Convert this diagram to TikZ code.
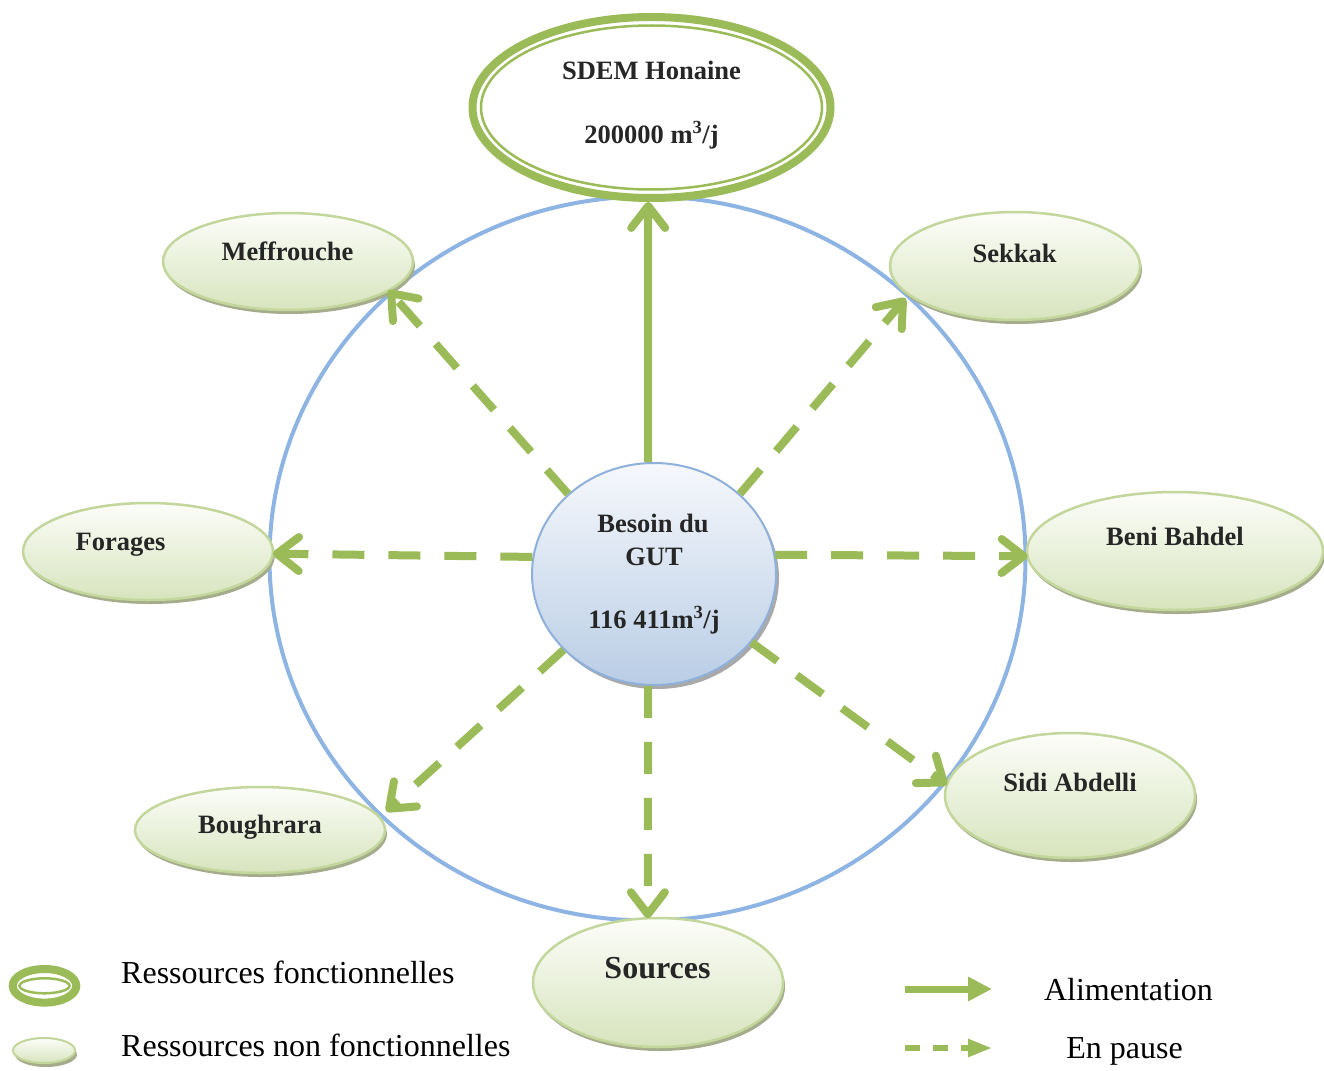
\documentclass[tikz,border=0pt]{standalone}
\usepackage{fontspec}
\setmainfont{Liberation Serif}
\usetikzlibrary{shapes.geometric,arrows.meta,shadows}

\definecolor{arrowgreen}{RGB}{155,187,89}
\definecolor{resborder}{RGB}{195,214,155}
\definecolor{restop}{RGB}{252,253,249}
\definecolor{resbot}{RGB}{215,228,189}
\definecolor{resshadow}{RGB}{165,172,140}
\definecolor{ringblue}{RGB}{141,180,226}
\definecolor{gutborder}{RGB}{142,176,218}
\definecolor{guttop}{RGB}{246,248,252}
\definecolor{gutbot}{RGB}{185,205,229}
\definecolor{gutshadow}{RGB}{160,160,160}
\definecolor{labeltext}{RGB}{38,38,38}

\begin{document}
\begin{tikzpicture}[x=1pt,y=-1pt,
  resource/.style={ellipse, draw=resborder, line width=2.5pt,
    top color=restop, bottom color=resbot, inner sep=0pt, outer sep=0pt,
    drop shadow={shadow xshift=2pt, shadow yshift=-4pt, fill=resshadow, opacity=1}},
  reslabel/.style={anchor=base, text=labeltext, inner sep=0pt,
    font=\fontsize{26.5pt}{30pt}\selectfont\bfseries},
  pausearrow/.style={draw=arrowgreen, line width=8pt, dash pattern=on 32pt off 24pt,
    -{Straight Barb[round,length=22pt,width=34pt]}},
  feedarrow/.style={draw=arrowgreen, line width=8pt,
    -{Straight Barb[round,length=22pt,width=34pt]}},
  legendtext/.style={anchor=base west, inner sep=0pt, font=\fontsize{32pt}{36pt}\selectfont},
]
\useasboundingbox (0,0) rectangle (1324,1070);

% supply area
\draw[ringblue, line width=4pt] (647.5,558.5) ellipse [x radius=378, y radius=362];

% resources
\node[resource, minimum width=250pt, minimum height=97pt]  (meff)      at (288,261.5) {};
\node[resource, minimum width=250pt, minimum height=108pt] (sekkak)    at (1015,266) {};
\node[resource, minimum width=250pt, minimum height=97pt]  (forages)   at (148,551.5) {};
\node[resource, minimum width=296pt, minimum height=118pt] (beni)      at (1175,551) {};
\node[resource, minimum width=250pt, minimum height=86pt]  (boughrara) at (260,830) {};
\node[resource, minimum width=250pt, minimum height=125pt] (sidi)      at (1070,795.5) {};
\node[resource, minimum width=250pt, minimum height=129pt] (sources)   at (658,982.5) {};

% working resource (double outline)
\node[ellipse, draw=arrowgreen, line width=8pt, fill=white, inner sep=0pt,
      minimum width=358pt, minimum height=181pt] (sdem) at (651.5,107.5) {};
\draw[arrowgreen, line width=2.5pt] (sdem.center) ellipse [x radius=170.5, y radius=82];

% demand
\node[ellipse, draw=gutborder, line width=2pt, top color=guttop, bottom color=gutbot,
      inner sep=0pt, minimum width=244pt, minimum height=222pt,
      drop shadow={shadow xshift=3pt, shadow yshift=-4pt, fill=gutshadow, opacity=0.9}]
      (gut) at (654,574) {};

% labels
\node[reslabel] (sdem-name) at (651.5,80) {SDEM Honaine};
\node[reslabel] (sdem-flow) at (651.5,143) {200000 m\textsuperscript{3}/j};
\node[reslabel] (gut-a) at (653,532) {Besoin du};
\node[reslabel] (gut-b) at (654,565) {GUT};
\node[reslabel] (gut-c) at (654,628) {116 411m\textsuperscript{3}/j};
\node[reslabel] (meff-t) at (287.5,260) {Meffrouche};
\node[reslabel] (sekkak-t) at (1014.5,262) {Sekkak};
\node[reslabel] (forages-t) at (120.5,550) {Forages};
\node[reslabel] (beni-t) at (1175,545) {Beni Bahdel};
\node[reslabel] (boughrara-t) at (260,833) {Boughrara};
\node[reslabel] (sidi-t) at (1070,791) {Sidi Abdelli};
\node[reslabel, font=\fontsize{32pt}{36pt}\selectfont\bfseries] (sources-t) at (657.5,978) {Sources};

% connections
\draw[feedarrow] (gut.93) -- (sdem.268);
\draw[pausearrow] (gut.137) -- (meff.-16);
\draw[pausearrow, shorten >=5pt] (gut.43) -- (sekkak.195);
\draw[pausearrow] (gut.172) -- (forages.359);
\draw[pausearrow] (gut.9) -- (beni.182);
\draw[pausearrow, shorten >=9pt] (gut.220) -- (boughrara.6);
\draw[pausearrow] (gut.325) -- (sidi.175);
\draw[pausearrow] (gut.267) -- (sources.99);

% legend
\node[ellipse, draw=arrowgreen, line width=8pt, fill=white, inner sep=0pt,
      minimum width=63.6pt, minimum height=33.6pt] (keyring) at (44.5,985.8) {};
\draw[arrowgreen, line width=2.5pt] (keyring.center) ellipse [x radius=25, y radius=7.5];
\node[resource, line width=2pt, minimum width=62pt, minimum height=25pt] (keyres) at (44,1050.5) {};
\node[legendtext] (key-func) at (121,983) {Ressources fonctionnelles};
\node[legendtext] (key-nonfunc) at (121,1056) {Ressources non fonctionnelles};

\coordinate (feed-a) at (905,989);
\coordinate (feed-b) at (992,989);
\draw[arrowgreen, line width=7pt, -{Triangle[length=24pt,width=23pt]}] (feed-a) -- (feed-b);
\coordinate (pause-a) at (905,1048);
\coordinate (pause-b) at (992,1048);
\draw[arrowgreen, line width=5.5pt, dash pattern=on 15pt off 13pt,
      -{Triangle[length=24pt,width=17pt]}] (pause-a) -- (pause-b);
\node[legendtext, anchor=base] (key-feed) at (1128.5,1000) {Alimentation};
\node[legendtext, anchor=base] (key-pause) at (1124.5,1058) {En pause};
\end{tikzpicture}
\end{document}
